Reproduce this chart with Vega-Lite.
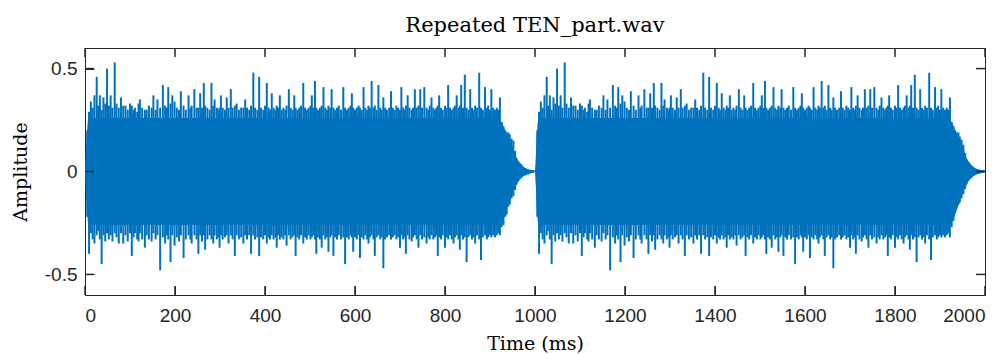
{
"$schema": "https://vega.github.io/schema/vega-lite/v6.json",
"width": 900,
"height": 247,
"autosize": "none",
"padding": {"left": 85, "top": 48, "right": 23, "bottom": 59},
"background": "white",
"config": {
 "view": {"stroke": "#262626", "strokeWidth": 1, "fill": null},
 "axis": {"domain": false, "ticks": true, "tickColor": "#262626", "tickWidth": 1, "tickOpacity": 1, "labelColor": "#262626", "labelFont": "Liberation Sans", "labelFontSize": 19, "grid": false, "tickSize": 9, "offset": -9, "titleFont": "DejaVu Serif", "titleFontWeight": "normal", "titleFontSize": 19, "titleColor": "#000000"}
},
"title": {"text": "Repeated TEN_part.wav", "font": "DejaVu Serif", "fontSize": 21, "fontWeight": "normal", "color": "#000000", "offset": 11},
"datasets": {
"xticks": [{"t":0},{"t":200},{"t":400},{"t":600},{"t":800},{"t":1000},{"t":1200},{"t":1400},{"t":1600},{"t":1800},{"t":2000}],
"yticks": [{"v":-0.5},{"v":0},{"v":0.5}],
"core": [
{"t":0,"hi":0,"lo":0},{"t":2,"hi":0.08,"lo":-0.08},{"t":4,"hi":0.17,"lo":-0.17},{"t":6,"hi":0.24,"lo":-0.24},{"t":9,"hi":0.26,"lo":-0.26},{"t":920,"hi":0.26,"lo":-0.26},{"t":926,"hi":0.24,"lo":-0.25},{"t":932,"hi":0.21,"lo":-0.22},{"t":938,"hi":0.18,"lo":-0.18},{"t":944,"hi":0.15,"lo":-0.15},{"t":950,"hi":0.12,"lo":-0.11},{"t":955,"hi":0.09,"lo":-0.085},{"t":960,"hi":0.06,"lo":-0.06},{"t":965,"hi":0.045,"lo":-0.042},{"t":970,"hi":0.032,"lo":-0.03},{"t":975,"hi":0.022,"lo":-0.021},{"t":980,"hi":0.015,"lo":-0.015},{"t":986,"hi":0.01,"lo":-0.01},{"t":992,"hi":0.007,"lo":-0.007},{"t":999,"hi":0.005,"lo":-0.004},
{"t":1000,"hi":0.005,"lo":-0.004},{"t":1002,"hi":0.08,"lo":-0.08},{"t":1004,"hi":0.17,"lo":-0.17},{"t":1006,"hi":0.24,"lo":-0.24},{"t":1009,"hi":0.26,"lo":-0.26},{"t":1920,"hi":0.26,"lo":-0.26},{"t":1926,"hi":0.24,"lo":-0.25},{"t":1932,"hi":0.21,"lo":-0.22},{"t":1938,"hi":0.18,"lo":-0.18},{"t":1944,"hi":0.15,"lo":-0.15},{"t":1950,"hi":0.12,"lo":-0.11},{"t":1955,"hi":0.09,"lo":-0.085},{"t":1960,"hi":0.06,"lo":-0.06},{"t":1965,"hi":0.045,"lo":-0.042},{"t":1970,"hi":0.032,"lo":-0.03},{"t":1975,"hi":0.022,"lo":-0.021},{"t":1980,"hi":0.015,"lo":-0.015},{"t":1986,"hi":0.01,"lo":-0.01},{"t":1992,"hi":0.007,"lo":-0.007},{"t":2000,"hi":0.005,"lo":-0.004}
],
"spikes": [
{"t":5,"hi":0.2,"lo":-0.22},{"t":9,"hi":0.29,"lo":-0.4},{"t":13,"hi":0.34,"lo":-0.3},{"t":17,"hi":0.31,"lo":-0.33},{"t":21,"hi":0.37,"lo":-0.35},{"t":26,"hi":0.46,"lo":-0.31},{"t":29,"hi":0.32,"lo":-0.29},{"t":33,"hi":0.37,"lo":-0.33},{"t":37,"hi":0.3,"lo":-0.45},{"t":41,"hi":0.36,"lo":-0.31},{"t":45,"hi":0.33,"lo":-0.34},{"t":49,"hi":0.5,"lo":-0.3},{"t":53,"hi":0.32,"lo":-0.33},{"t":57,"hi":0.37,"lo":-0.31},{"t":61,"hi":0.31,"lo":-0.34},{"t":66,"hi":0.53,"lo":-0.3},{"t":70,"hi":0.33,"lo":-0.32},{"t":75,"hi":0.31,"lo":-0.35},{"t":80,"hi":0.36,"lo":-0.3},{"t":85,"hi":0.32,"lo":-0.35},{"t":90,"hi":0.32,"lo":-0.31},{"t":95,"hi":0.3,"lo":-0.34},{"t":100,"hi":0.33,"lo":-0.3},{"t":104,"hi":0.32,"lo":-0.41},{"t":108,"hi":0.3,"lo":-0.32},{"t":111,"hi":0.31,"lo":-0.3},{"t":116,"hi":0.29,"lo":-0.33},{"t":119,"hi":0.33,"lo":-0.34},{"t":122,"hi":0.35,"lo":-0.3},{"t":127,"hi":0.31,"lo":-0.33},{"t":133,"hi":0.3,"lo":-0.37},{"t":137,"hi":0.3,"lo":-0.31},{"t":142,"hi":0.32,"lo":-0.33},{"t":148,"hi":0.31,"lo":-0.34},{"t":152,"hi":0.37,"lo":-0.3},{"t":157,"hi":0.3,"lo":-0.33},{"t":161,"hi":0.35,"lo":-0.31},{"t":167,"hi":0.31,"lo":-0.48},{"t":173,"hi":0.42,"lo":-0.32},{"t":178,"hi":0.32,"lo":-0.35},{"t":182,"hi":0.31,"lo":-0.31},{"t":185,"hi":0.41,"lo":-0.33},{"t":190,"hi":0.33,"lo":-0.44},{"t":194,"hi":0.37,"lo":-0.31},{"t":199,"hi":0.34,"lo":-0.36},{"t":204,"hi":0.31,"lo":-0.32},{"t":209,"hi":0.3,"lo":-0.34},{"t":213,"hi":0.39,"lo":-0.31},{"t":219,"hi":0.32,"lo":-0.42},{"t":224,"hi":0.3,"lo":-0.33},{"t":230,"hi":0.37,"lo":-0.31},{"t":234,"hi":0.31,"lo":-0.33},{"t":237,"hi":0.32,"lo":-0.35},{"t":243,"hi":0.4,"lo":-0.31},{"t":248,"hi":0.31,"lo":-0.33},{"t":252,"hi":0.31,"lo":-0.4},{"t":256,"hi":0.38,"lo":-0.31},{"t":260,"hi":0.31,"lo":-0.34},{"t":264,"hi":0.43,"lo":-0.31},{"t":267,"hi":0.32,"lo":-0.38},{"t":272,"hi":0.31,"lo":-0.33},{"t":277,"hi":0.3,"lo":-0.31},{"t":281,"hi":0.43,"lo":-0.33},{"t":285,"hi":0.32,"lo":-0.35},{"t":288,"hi":0.35,"lo":-0.31},{"t":293,"hi":0.31,"lo":-0.33},{"t":297,"hi":0.3,"lo":-0.32},{"t":299,"hi":0.31,"lo":-0.37},{"t":302,"hi":0.37,"lo":-0.31},{"t":306,"hi":0.31,"lo":-0.33},{"t":311,"hi":0.3,"lo":-0.32},{"t":315,"hi":0.36,"lo":-0.31},{"t":319,"hi":0.31,"lo":-0.35},{"t":324,"hi":0.4,"lo":-0.31},{"t":328,"hi":0.31,"lo":-0.33},{"t":333,"hi":0.32,"lo":-0.41},{"t":337,"hi":0.33,"lo":-0.31},{"t":342,"hi":0.3,"lo":-0.33},{"t":347,"hi":0.31,"lo":-0.32},{"t":352,"hi":0.31,"lo":-0.35},{"t":356,"hi":0.35,"lo":-0.31},{"t":360,"hi":0.31,"lo":-0.33},{"t":365,"hi":0.3,"lo":-0.31},{"t":369,"hi":0.32,"lo":-0.4},{"t":374,"hi":0.48,"lo":-0.31},{"t":378,"hi":0.31,"lo":-0.33},{"t":383,"hi":0.3,"lo":-0.32},{"t":387,"hi":0.46,"lo":-0.41},{"t":391,"hi":0.31,"lo":-0.32},{"t":396,"hi":0.3,"lo":-0.33},{"t":400,"hi":0.32,"lo":-0.31},{"t":404,"hi":0.43,"lo":-0.35},{"t":408,"hi":0.31,"lo":-0.32},{"t":411,"hi":0.3,"lo":-0.33},{"t":415,"hi":0.38,"lo":-0.31},{"t":419,"hi":0.31,"lo":-0.33},{"t":423,"hi":0.3,"lo":-0.32},{"t":426,"hi":0.32,"lo":-0.37},{"t":429,"hi":0.31,"lo":-0.31},{"t":433,"hi":0.37,"lo":-0.33},{"t":437,"hi":0.3,"lo":-0.32},{"t":441,"hi":0.31,"lo":-0.33},{"t":445,"hi":0.3,"lo":-0.31},{"t":448,"hi":0.32,"lo":-0.36},{"t":453,"hi":0.4,"lo":-0.31},{"t":457,"hi":0.31,"lo":-0.33},{"t":461,"hi":0.3,"lo":-0.32},{"t":465,"hi":0.37,"lo":-0.31},{"t":468,"hi":0.31,"lo":-0.41},{"t":472,"hi":0.3,"lo":-0.32},{"t":476,"hi":0.31,"lo":-0.33},{"t":480,"hi":0.32,"lo":-0.31},{"t":485,"hi":0.43,"lo":-0.35},{"t":489,"hi":0.31,"lo":-0.32},{"t":493,"hi":0.3,"lo":-0.33},{"t":497,"hi":0.31,"lo":-0.31},{"t":501,"hi":0.32,"lo":-0.33},{"t":504,"hi":0.37,"lo":-0.32},{"t":507,"hi":0.31,"lo":-0.31},{"t":511,"hi":0.44,"lo":-0.33},{"t":514,"hi":0.31,"lo":-0.4},{"t":518,"hi":0.3,"lo":-0.32},{"t":522,"hi":0.31,"lo":-0.33},{"t":526,"hi":0.32,"lo":-0.37},{"t":530,"hi":0.41,"lo":-0.31},{"t":534,"hi":0.31,"lo":-0.33},{"t":538,"hi":0.3,"lo":-0.32},{"t":541,"hi":0.32,"lo":-0.39},{"t":545,"hi":0.31,"lo":-0.32},{"t":548,"hi":0.4,"lo":-0.31},{"t":552,"hi":0.31,"lo":-0.41},{"t":556,"hi":0.3,"lo":-0.32},{"t":560,"hi":0.31,"lo":-0.33},{"t":564,"hi":0.32,"lo":-0.31},{"t":569,"hi":0.3,"lo":-0.33},{"t":574,"hi":0.41,"lo":-0.32},{"t":578,"hi":0.31,"lo":-0.45},{"t":582,"hi":0.3,"lo":-0.32},{"t":586,"hi":0.31,"lo":-0.33},{"t":590,"hi":0.32,"lo":-0.31},{"t":593,"hi":0.38,"lo":-0.32},{"t":596,"hi":0.31,"lo":-0.39},{"t":600,"hi":0.3,"lo":-0.32},{"t":604,"hi":0.31,"lo":-0.33},{"t":608,"hi":0.32,"lo":-0.31},{"t":611,"hi":0.31,"lo":-0.42},{"t":615,"hi":0.3,"lo":-0.32},{"t":619,"hi":0.41,"lo":-0.33},{"t":623,"hi":0.31,"lo":-0.31},{"t":627,"hi":0.3,"lo":-0.33},{"t":630,"hi":0.32,"lo":-0.35},{"t":633,"hi":0.31,"lo":-0.32},{"t":637,"hi":0.44,"lo":-0.31},{"t":641,"hi":0.31,"lo":-0.33},{"t":644,"hi":0.32,"lo":-0.41},{"t":648,"hi":0.3,"lo":-0.32},{"t":652,"hi":0.42,"lo":-0.31},{"t":656,"hi":0.31,"lo":-0.33},{"t":659,"hi":0.3,"lo":-0.32},{"t":663,"hi":0.36,"lo":-0.47},{"t":667,"hi":0.31,"lo":-0.33},{"t":671,"hi":0.3,"lo":-0.32},{"t":676,"hi":0.31,"lo":-0.31},{"t":680,"hi":0.39,"lo":-0.33},{"t":684,"hi":0.31,"lo":-0.32},{"t":688,"hi":0.3,"lo":-0.31},{"t":692,"hi":0.32,"lo":-0.33},{"t":696,"hi":0.31,"lo":-0.32},{"t":700,"hi":0.3,"lo":-0.37},{"t":703,"hi":0.41,"lo":-0.31},{"t":707,"hi":0.31,"lo":-0.33},{"t":710,"hi":0.3,"lo":-0.32},{"t":713,"hi":0.32,"lo":-0.4},{"t":717,"hi":0.37,"lo":-0.31},{"t":721,"hi":0.31,"lo":-0.33},{"t":726,"hi":0.3,"lo":-0.34},{"t":729,"hi":0.31,"lo":-0.32},{"t":733,"hi":0.4,"lo":-0.31},{"t":737,"hi":0.31,"lo":-0.33},{"t":741,"hi":0.32,"lo":-0.37},{"t":745,"hi":0.4,"lo":-0.31},{"t":749,"hi":0.31,"lo":-0.33},{"t":754,"hi":0.41,"lo":-0.32},{"t":759,"hi":0.31,"lo":-0.35},{"t":763,"hi":0.3,"lo":-0.32},{"t":766,"hi":0.32,"lo":-0.33},{"t":770,"hi":0.36,"lo":-0.31},{"t":774,"hi":0.31,"lo":-0.33},{"t":778,"hi":0.3,"lo":-0.32},{"t":781,"hi":0.31,"lo":-0.31},{"t":784,"hi":0.32,"lo":-0.41},{"t":787,"hi":0.37,"lo":-0.32},{"t":791,"hi":0.31,"lo":-0.33},{"t":795,"hi":0.3,"lo":-0.31},{"t":800,"hi":0.32,"lo":-0.37},{"t":803,"hi":0.31,"lo":-0.32},{"t":807,"hi":0.42,"lo":-0.33},{"t":811,"hi":0.31,"lo":-0.31},{"t":815,"hi":0.3,"lo":-0.33},{"t":819,"hi":0.31,"lo":-0.35},{"t":822,"hi":0.32,"lo":-0.32},{"t":826,"hi":0.37,"lo":-0.31},{"t":830,"hi":0.31,"lo":-0.33},{"t":833,"hi":0.32,"lo":-0.38},{"t":836,"hi":0.42,"lo":-0.31},{"t":840,"hi":0.31,"lo":-0.33},{"t":844,"hi":0.47,"lo":-0.32},{"t":848,"hi":0.31,"lo":-0.44},{"t":852,"hi":0.3,"lo":-0.32},{"t":856,"hi":0.4,"lo":-0.31},{"t":860,"hi":0.31,"lo":-0.33},{"t":863,"hi":0.3,"lo":-0.32},{"t":867,"hi":0.32,"lo":-0.35},{"t":871,"hi":0.31,"lo":-0.31},{"t":876,"hi":0.48,"lo":-0.33},{"t":880,"hi":0.31,"lo":-0.43},{"t":884,"hi":0.3,"lo":-0.32},{"t":889,"hi":0.41,"lo":-0.31},{"t":893,"hi":0.31,"lo":-0.33},{"t":896,"hi":0.32,"lo":-0.32},{"t":900,"hi":0.3,"lo":-0.31},{"t":903,"hi":0.4,"lo":-0.32},{"t":907,"hi":0.31,"lo":-0.31},{"t":911,"hi":0.3,"lo":-0.32},{"t":915,"hi":0.31,"lo":-0.31},{"t":918,"hi":0.3,"lo":-0.3},{"t":922,"hi":0.36,"lo":-0.31},{"t":926,"hi":0.24,"lo":-0.27},{"t":930,"hi":0.22,"lo":-0.26},{"t":934,"hi":0.2,"lo":-0.22},{"t":937,"hi":0.19,"lo":-0.21},{"t":941,"hi":0.19,"lo":-0.17},{"t":944,"hi":0.18,"lo":-0.16},{"t":948,"hi":0.16,"lo":-0.13},{"t":952,"hi":0.15,"lo":-0.12},{"t":956,"hi":0.1,"lo":-0.09},{"t":959,"hi":0.066,"lo":-0.063},{"t":963,"hi":0.05,"lo":-0.045},{"t":967,"hi":0.04,"lo":-0.035},{"t":970,"hi":0.034,"lo":-0.03},{"t":975,"hi":0.02,"lo":-0.022},{"t":980,"hi":0.014,"lo":-0.018},{"t":985,"hi":0.01,"lo":-0.015},{"t":990,"hi":0.008,"lo":-0.01},{"t":995,"hi":0.006,"lo":-0.007},
{"t":1005,"hi":0.2,"lo":-0.22},{"t":1009,"hi":0.29,"lo":-0.4},{"t":1013,"hi":0.34,"lo":-0.3},{"t":1017,"hi":0.31,"lo":-0.33},{"t":1021,"hi":0.37,"lo":-0.35},{"t":1026,"hi":0.46,"lo":-0.31},{"t":1029,"hi":0.32,"lo":-0.29},{"t":1033,"hi":0.37,"lo":-0.33},{"t":1037,"hi":0.3,"lo":-0.45},{"t":1041,"hi":0.36,"lo":-0.31},{"t":1045,"hi":0.33,"lo":-0.34},{"t":1049,"hi":0.5,"lo":-0.3},{"t":1053,"hi":0.32,"lo":-0.33},{"t":1057,"hi":0.37,"lo":-0.31},{"t":1061,"hi":0.31,"lo":-0.34},{"t":1066,"hi":0.53,"lo":-0.3},{"t":1070,"hi":0.33,"lo":-0.32},{"t":1075,"hi":0.31,"lo":-0.35},{"t":1080,"hi":0.36,"lo":-0.3},{"t":1085,"hi":0.32,"lo":-0.35},{"t":1090,"hi":0.32,"lo":-0.31},{"t":1095,"hi":0.3,"lo":-0.34},{"t":1100,"hi":0.33,"lo":-0.3},{"t":1104,"hi":0.32,"lo":-0.41},{"t":1108,"hi":0.3,"lo":-0.32},{"t":1111,"hi":0.31,"lo":-0.3},{"t":1116,"hi":0.29,"lo":-0.33},{"t":1119,"hi":0.33,"lo":-0.34},{"t":1122,"hi":0.35,"lo":-0.3},{"t":1127,"hi":0.31,"lo":-0.33},{"t":1133,"hi":0.3,"lo":-0.37},{"t":1137,"hi":0.3,"lo":-0.31},{"t":1142,"hi":0.32,"lo":-0.33},{"t":1148,"hi":0.31,"lo":-0.34},{"t":1152,"hi":0.37,"lo":-0.3},{"t":1157,"hi":0.3,"lo":-0.33},{"t":1161,"hi":0.35,"lo":-0.31},{"t":1167,"hi":0.31,"lo":-0.48},{"t":1173,"hi":0.42,"lo":-0.32},{"t":1178,"hi":0.32,"lo":-0.35},{"t":1182,"hi":0.31,"lo":-0.31},{"t":1185,"hi":0.41,"lo":-0.33},{"t":1190,"hi":0.33,"lo":-0.44},{"t":1194,"hi":0.37,"lo":-0.31},{"t":1199,"hi":0.34,"lo":-0.36},{"t":1204,"hi":0.31,"lo":-0.32},{"t":1209,"hi":0.3,"lo":-0.34},{"t":1213,"hi":0.39,"lo":-0.31},{"t":1219,"hi":0.32,"lo":-0.42},{"t":1224,"hi":0.3,"lo":-0.33},{"t":1230,"hi":0.37,"lo":-0.31},{"t":1234,"hi":0.31,"lo":-0.33},{"t":1237,"hi":0.32,"lo":-0.35},{"t":1243,"hi":0.4,"lo":-0.31},{"t":1248,"hi":0.31,"lo":-0.33},{"t":1252,"hi":0.31,"lo":-0.4},{"t":1256,"hi":0.38,"lo":-0.31},{"t":1260,"hi":0.31,"lo":-0.34},{"t":1264,"hi":0.43,"lo":-0.31},{"t":1267,"hi":0.32,"lo":-0.38},{"t":1272,"hi":0.31,"lo":-0.33},{"t":1277,"hi":0.3,"lo":-0.31},{"t":1281,"hi":0.43,"lo":-0.33},{"t":1285,"hi":0.32,"lo":-0.35},{"t":1288,"hi":0.35,"lo":-0.31},{"t":1293,"hi":0.31,"lo":-0.33},{"t":1297,"hi":0.3,"lo":-0.32},{"t":1299,"hi":0.31,"lo":-0.37},{"t":1302,"hi":0.37,"lo":-0.31},{"t":1306,"hi":0.31,"lo":-0.33},{"t":1311,"hi":0.3,"lo":-0.32},{"t":1315,"hi":0.36,"lo":-0.31},{"t":1319,"hi":0.31,"lo":-0.35},{"t":1324,"hi":0.4,"lo":-0.31},{"t":1328,"hi":0.31,"lo":-0.33},{"t":1333,"hi":0.32,"lo":-0.41},{"t":1337,"hi":0.33,"lo":-0.31},{"t":1342,"hi":0.3,"lo":-0.33},{"t":1347,"hi":0.31,"lo":-0.32},{"t":1352,"hi":0.31,"lo":-0.35},{"t":1356,"hi":0.35,"lo":-0.31},{"t":1360,"hi":0.31,"lo":-0.33},{"t":1365,"hi":0.3,"lo":-0.31},{"t":1369,"hi":0.32,"lo":-0.4},{"t":1374,"hi":0.48,"lo":-0.31},{"t":1378,"hi":0.31,"lo":-0.33},{"t":1383,"hi":0.3,"lo":-0.32},{"t":1387,"hi":0.46,"lo":-0.41},{"t":1391,"hi":0.31,"lo":-0.32},{"t":1396,"hi":0.3,"lo":-0.33},{"t":1400,"hi":0.32,"lo":-0.31},{"t":1404,"hi":0.43,"lo":-0.35},{"t":1408,"hi":0.31,"lo":-0.32},{"t":1411,"hi":0.3,"lo":-0.33},{"t":1415,"hi":0.38,"lo":-0.31},{"t":1419,"hi":0.31,"lo":-0.33},{"t":1423,"hi":0.3,"lo":-0.32},{"t":1426,"hi":0.32,"lo":-0.37},{"t":1429,"hi":0.31,"lo":-0.31},{"t":1433,"hi":0.37,"lo":-0.33},{"t":1437,"hi":0.3,"lo":-0.32},{"t":1441,"hi":0.31,"lo":-0.33},{"t":1445,"hi":0.3,"lo":-0.31},{"t":1448,"hi":0.32,"lo":-0.36},{"t":1453,"hi":0.4,"lo":-0.31},{"t":1457,"hi":0.31,"lo":-0.33},{"t":1461,"hi":0.3,"lo":-0.32},{"t":1465,"hi":0.37,"lo":-0.31},{"t":1468,"hi":0.31,"lo":-0.41},{"t":1472,"hi":0.3,"lo":-0.32},{"t":1476,"hi":0.31,"lo":-0.33},{"t":1480,"hi":0.32,"lo":-0.31},{"t":1485,"hi":0.43,"lo":-0.35},{"t":1489,"hi":0.31,"lo":-0.32},{"t":1493,"hi":0.3,"lo":-0.33},{"t":1497,"hi":0.31,"lo":-0.31},{"t":1501,"hi":0.32,"lo":-0.33},{"t":1504,"hi":0.37,"lo":-0.32},{"t":1507,"hi":0.31,"lo":-0.31},{"t":1511,"hi":0.44,"lo":-0.33},{"t":1514,"hi":0.31,"lo":-0.4},{"t":1518,"hi":0.3,"lo":-0.32},{"t":1522,"hi":0.31,"lo":-0.33},{"t":1526,"hi":0.32,"lo":-0.37},{"t":1530,"hi":0.41,"lo":-0.31},{"t":1534,"hi":0.31,"lo":-0.33},{"t":1538,"hi":0.3,"lo":-0.32},{"t":1541,"hi":0.32,"lo":-0.39},{"t":1545,"hi":0.31,"lo":-0.32},{"t":1548,"hi":0.4,"lo":-0.31},{"t":1552,"hi":0.31,"lo":-0.41},{"t":1556,"hi":0.3,"lo":-0.32},{"t":1560,"hi":0.31,"lo":-0.33},{"t":1564,"hi":0.32,"lo":-0.31},{"t":1569,"hi":0.3,"lo":-0.33},{"t":1574,"hi":0.41,"lo":-0.32},{"t":1578,"hi":0.31,"lo":-0.45},{"t":1582,"hi":0.3,"lo":-0.32},{"t":1586,"hi":0.31,"lo":-0.33},{"t":1590,"hi":0.32,"lo":-0.31},{"t":1593,"hi":0.38,"lo":-0.32},{"t":1596,"hi":0.31,"lo":-0.39},{"t":1600,"hi":0.3,"lo":-0.32},{"t":1604,"hi":0.31,"lo":-0.33},{"t":1608,"hi":0.32,"lo":-0.31},{"t":1611,"hi":0.31,"lo":-0.42},{"t":1615,"hi":0.3,"lo":-0.32},{"t":1619,"hi":0.41,"lo":-0.33},{"t":1623,"hi":0.31,"lo":-0.31},{"t":1627,"hi":0.3,"lo":-0.33},{"t":1630,"hi":0.32,"lo":-0.35},{"t":1633,"hi":0.31,"lo":-0.32},{"t":1637,"hi":0.44,"lo":-0.31},{"t":1641,"hi":0.31,"lo":-0.33},{"t":1644,"hi":0.32,"lo":-0.41},{"t":1648,"hi":0.3,"lo":-0.32},{"t":1652,"hi":0.42,"lo":-0.31},{"t":1656,"hi":0.31,"lo":-0.33},{"t":1659,"hi":0.3,"lo":-0.32},{"t":1663,"hi":0.36,"lo":-0.47},{"t":1667,"hi":0.31,"lo":-0.33},{"t":1671,"hi":0.3,"lo":-0.32},{"t":1676,"hi":0.31,"lo":-0.31},{"t":1680,"hi":0.39,"lo":-0.33},{"t":1684,"hi":0.31,"lo":-0.32},{"t":1688,"hi":0.3,"lo":-0.31},{"t":1692,"hi":0.32,"lo":-0.33},{"t":1696,"hi":0.31,"lo":-0.32},{"t":1700,"hi":0.3,"lo":-0.37},{"t":1703,"hi":0.41,"lo":-0.31},{"t":1707,"hi":0.31,"lo":-0.33},{"t":1710,"hi":0.3,"lo":-0.32},{"t":1713,"hi":0.32,"lo":-0.4},{"t":1717,"hi":0.37,"lo":-0.31},{"t":1721,"hi":0.31,"lo":-0.33},{"t":1726,"hi":0.3,"lo":-0.34},{"t":1729,"hi":0.31,"lo":-0.32},{"t":1733,"hi":0.4,"lo":-0.31},{"t":1737,"hi":0.31,"lo":-0.33},{"t":1741,"hi":0.32,"lo":-0.37},{"t":1745,"hi":0.4,"lo":-0.31},{"t":1749,"hi":0.31,"lo":-0.33},{"t":1754,"hi":0.41,"lo":-0.32},{"t":1759,"hi":0.31,"lo":-0.35},{"t":1763,"hi":0.3,"lo":-0.32},{"t":1766,"hi":0.32,"lo":-0.33},{"t":1770,"hi":0.36,"lo":-0.31},{"t":1774,"hi":0.31,"lo":-0.33},{"t":1778,"hi":0.3,"lo":-0.32},{"t":1781,"hi":0.31,"lo":-0.31},{"t":1784,"hi":0.32,"lo":-0.41},{"t":1787,"hi":0.37,"lo":-0.32},{"t":1791,"hi":0.31,"lo":-0.33},{"t":1795,"hi":0.3,"lo":-0.31},{"t":1800,"hi":0.32,"lo":-0.37},{"t":1803,"hi":0.31,"lo":-0.32},{"t":1807,"hi":0.42,"lo":-0.33},{"t":1811,"hi":0.31,"lo":-0.31},{"t":1815,"hi":0.3,"lo":-0.33},{"t":1819,"hi":0.31,"lo":-0.35},{"t":1822,"hi":0.32,"lo":-0.32},{"t":1826,"hi":0.37,"lo":-0.31},{"t":1830,"hi":0.31,"lo":-0.33},{"t":1833,"hi":0.32,"lo":-0.38},{"t":1836,"hi":0.42,"lo":-0.31},{"t":1840,"hi":0.31,"lo":-0.33},{"t":1844,"hi":0.47,"lo":-0.32},{"t":1848,"hi":0.31,"lo":-0.44},{"t":1852,"hi":0.3,"lo":-0.32},{"t":1856,"hi":0.4,"lo":-0.31},{"t":1860,"hi":0.31,"lo":-0.33},{"t":1863,"hi":0.3,"lo":-0.32},{"t":1867,"hi":0.32,"lo":-0.35},{"t":1871,"hi":0.31,"lo":-0.31},{"t":1876,"hi":0.48,"lo":-0.33},{"t":1880,"hi":0.31,"lo":-0.43},{"t":1884,"hi":0.3,"lo":-0.32},{"t":1889,"hi":0.41,"lo":-0.31},{"t":1893,"hi":0.31,"lo":-0.33},{"t":1896,"hi":0.32,"lo":-0.32},{"t":1900,"hi":0.3,"lo":-0.31},{"t":1903,"hi":0.4,"lo":-0.32},{"t":1907,"hi":0.31,"lo":-0.31},{"t":1911,"hi":0.3,"lo":-0.32},{"t":1915,"hi":0.31,"lo":-0.31},{"t":1918,"hi":0.3,"lo":-0.3},{"t":1922,"hi":0.36,"lo":-0.32},{"t":1926,"hi":0.24,"lo":-0.27},{"t":1930,"hi":0.22,"lo":-0.24},{"t":1934,"hi":0.2,"lo":-0.2},{"t":1937,"hi":0.19,"lo":-0.18},{"t":1941,"hi":0.19,"lo":-0.16},{"t":1944,"hi":0.17,"lo":-0.15},{"t":1948,"hi":0.155,"lo":-0.13},{"t":1952,"hi":0.13,"lo":-0.11},{"t":1956,"hi":0.09,"lo":-0.085},{"t":1959,"hi":0.06,"lo":-0.063},{"t":1963,"hi":0.045,"lo":-0.045},{"t":1967,"hi":0.03,"lo":-0.035},{"t":1970,"hi":0.022,"lo":-0.03},{"t":1975,"hi":0.015,"lo":-0.022},{"t":1980,"hi":0.01,"lo":-0.016},{"t":1985,"hi":0.008,"lo":-0.012},{"t":1990,"hi":0.006,"lo":-0.009},{"t":1995,"hi":0.005,"lo":-0.007}
]
},
"layer": [
 {
  "data": {"name": "core"},
  "mark": {"type": "area", "color": "#0072BD", "opacity": 1},
  "encoding": {
   "x": {"field": "t", "type": "quantitative", "scale": {"domain": [0, 2000], "nice": false, "zero": false},
     "axis": {"orient": "bottom", "values": [0,200,400,600,800,1000,1200,1400,1600,1800,2000], "format": "d", "title": "Time (ms)", "labelPadding": 11, "titlePadding": 9}},
   "y": {"field": "lo", "type": "quantitative", "scale": {"domain": [-0.6, 0.6], "nice": false, "zero": false},
     "axis": {"orient": "left", "values": [-0.5, 0, 0.5], "title": "Amplitude", "labelPadding": 8, "titlePadding": 14,
       "labelExpr": "datum.value == 0 ? '0' : (datum.value < 0 ? '-' : '') + format(abs(datum.value), '.1f')"}},
   "y2": {"field": "hi"}
  }
 },
 {
  "data": {"name": "spikes"},
  "mark": {"type": "rule", "color": "#0072BD", "strokeWidth": 2},
  "encoding": {
   "x": {"field": "t", "type": "quantitative", "axis": null},
   "y": {"field": "lo", "type": "quantitative", "axis": null},
   "y2": {"field": "hi"}
  }
 },
 {
  "data": {"name": "xticks"},
  "mark": {"type": "rule", "color": "#262626", "strokeWidth": 1.5},
  "encoding": {
   "x": {"field": "t", "type": "quantitative", "axis": null},
   "y": {"datum": -0.6, "type": "quantitative", "axis": null},
   "y2": {"datum": -0.5563}
  }
 },
 {
  "data": {"name": "xticks"},
  "mark": {"type": "rule", "color": "#262626", "strokeWidth": 1.5},
  "encoding": {
   "x": {"field": "t", "type": "quantitative", "axis": null},
   "y": {"datum": 0.6, "type": "quantitative", "axis": null},
   "y2": {"datum": 0.5563}
  }
 },
 {
  "data": {"name": "yticks"},
  "mark": {"type": "rule", "color": "#262626", "strokeWidth": 1.5},
  "encoding": {
   "y": {"field": "v", "type": "quantitative", "axis": null},
   "x": {"datum": 0, "type": "quantitative", "axis": null},
   "x2": {"datum": 20}
  }
 },
 {
  "data": {"name": "yticks"},
  "mark": {"type": "rule", "color": "#262626", "strokeWidth": 1.5},
  "encoding": {
   "y": {"field": "v", "type": "quantitative", "axis": null},
   "x": {"datum": 2000, "type": "quantitative", "axis": null},
   "x2": {"datum": 1980}
  }
 }
],
"resolve": {"axis": {"x": "independent", "y": "independent"}}
}
